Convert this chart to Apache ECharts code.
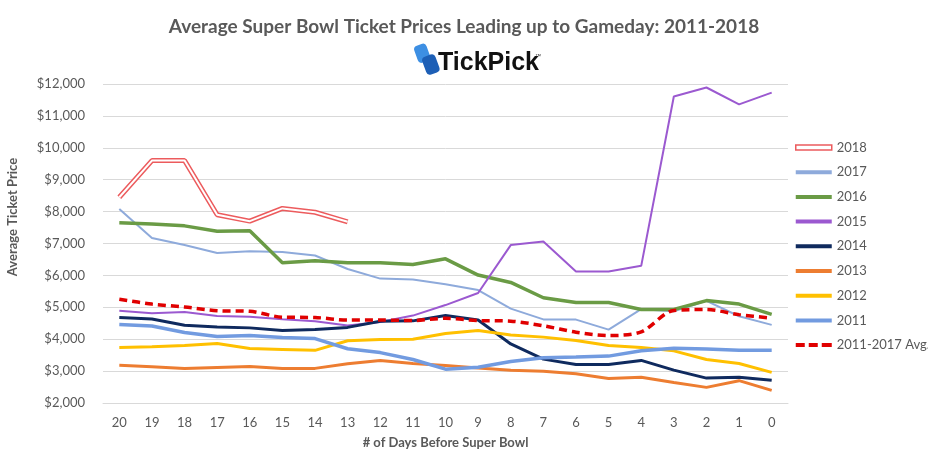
<!DOCTYPE html>
<html>
<head>
<meta charset="utf-8">
<script src="https://cdn.jsdelivr.net/npm/echarts@6/dist/echarts.min.js"></script>
<style>html,body{margin:0;padding:0;background:#fff}#c{width:928px;height:465px}</style>
</head>
<body>
<div id="c"></div>
<script>
var categories = ['20','19','18','17','16','15','14','13','12','11','10','9','8','7','6','5','4','3','2','1','0'];
var yTicks = [2000,3000,4000,5000,6000,7000,8000,9000,10000,11000,12000];
var s2018 = [8450, 9600, 9600, 7900, 7700, 8100, 7980, 7680];
var s2017 = [8080, 7170, 6950, 6700, 6760, 6730, 6625, 6200, 5900, 5875, 5720, 5540, 4960, 4620, 4615, 4300, 4940, 4875, 5200, 4720, 4450];
var s2016 = [7650, 7615, 7553, 7385, 7396, 6396, 6459, 6396, 6400, 6340, 6520, 6010, 5780, 5300, 5150, 5150, 4930, 4930, 5210, 5100, 4780];
var s2015 = [4890, 4815, 4855, 4730, 4700, 4625, 4560, 4430, 4540, 4740, 5070, 5450, 6950, 7060, 6120, 6120, 6300, 11610, 11890, 11360, 11730];
var s2014 = [4680, 4635, 4440, 4385, 4355, 4270, 4305, 4370, 4560, 4575, 4740, 4600, 3850, 3375, 3210, 3210, 3335, 3030, 2780, 2810, 2710];
var s2013 = [3180, 3135, 3085, 3115, 3145, 3085, 3085, 3230, 3335, 3240, 3175, 3100, 3030, 2995, 2915, 2770, 2810, 2645, 2490, 2700, 2395];
var s2012 = [3740, 3760, 3800, 3865, 3710, 3680, 3650, 3950, 3990, 4000, 4180, 4270, 4135, 4065, 3960, 3800, 3740, 3635, 3365, 3240, 2960];
var s2011 = [4460, 4415, 4210, 4085, 4115, 4055, 4020, 3700, 3580, 3365, 3060, 3120, 3300, 3420, 3440, 3470, 3635, 3720, 3690, 3650, 3650];
var sAvg = [5255, 5100, 5010, 4895, 4875, 4690, 4680, 4600, 4600, 4585, 4655, 4585, 4565, 4420, 4220, 4115, 4230, 4900, 4930, 4770, 4660];

var FONT = 'Lato';
var GREY = '#595959';
var C = {
  '2018': '#ec5b5d', '2017': '#8eaadb', '2016': '#6a9b45', '2015': '#9b59d0',
  '2014': '#0f2a5e', '2013': '#ed7d31', '2012': '#ffc000', '2011': '#729be0', 'avg': '#e00000'
};
var SOLID = 'path://M0,0h36v4h-36z';
var DASHED = 'path://M0,0h9v4h-9z M13,0h9v4h-9z M26,0h10v4h-10z';

var chart = echarts.init(document.getElementById('c'), null, {renderer: 'canvas'});

function line(name, data, color, width, extra) {
  var s = {
    name: name, type: 'line', data: data, symbol: 'none', showSymbol: false,
    lineStyle: {color: color, width: width}, itemStyle: {color: color},
    emphasis: {disabled: true}, animation: false
  };
  if (extra) for (var k in extra) s[k] = extra[k];
  return s;
}
function leg(name, color) {
  return {name: name, icon: SOLID, itemStyle: {color: color, borderWidth: 0}};
}

chart.setOption({
  animation: false,
  backgroundColor: '#fff',
  title: {
    text: 'Average Super Bowl Ticket Prices Leading up to Gameday: 2011-2018',
    left: 'center', top: 12,
    textStyle: {fontFamily: FONT, fontSize: 19, fontWeight: 'bold', color: GREY}
  },
  grid: {left: 103, right: 140, top: 84, bottom: 62, containLabel: false},
  legend: {
    orient: 'vertical', left: 795, top: 141, itemWidth: 36, itemHeight: 14, itemGap: 11.7,
    padding: 0,
    textStyle: {fontFamily: FONT, fontSize: 13, color: GREY},
    data: [
      {name: '2018', icon: 'path://M0,0 L36,0 L36,5 L0,5 Z', itemStyle: {color: '#fff', borderColor: C['2018'], borderWidth: 1.5}},
      leg('2017', C['2017']), leg('2016', C['2016']), leg('2015', C['2015']), leg('2014', C['2014']),
      leg('2013', C['2013']), leg('2012', C['2012']), leg('2011', C['2011']),
      {name: '2011-2017 Avg.', icon: DASHED, itemStyle: {color: C.avg, borderWidth: 0}}
    ]
  },
  xAxis: {
    type: 'category', data: categories, boundaryGap: true,
    axisLine: {show: true, lineStyle: {color: '#d9d9d9'}},
    axisTick: {show: false},
    axisLabel: {fontFamily: FONT, fontSize: 13, color: GREY, margin: 13},
    name: '# of Days Before Super Bowl', nameLocation: 'middle', nameGap: 33,
    nameTextStyle: {fontFamily: FONT, fontSize: 13, fontWeight: 'bold', color: GREY}
  },
  yAxis: {
    type: 'value', min: yTicks[0], max: yTicks[yTicks.length - 1], interval: 1000,
    axisLine: {show: false}, axisTick: {show: false},
    splitLine: {lineStyle: {color: '#d9d9d9', width: 1}},
    axisLabel: {
      fontFamily: FONT, fontSize: 13, color: GREY, margin: 18,
      formatter: function (v) { return '$' + v.toLocaleString('en-US'); }
    }
  },
  graphic: [
    {type: 'text', rotation: Math.PI / 2, x: 13, y: 217,
      style: {text: 'Average Ticket Price', font: 'bold 13px ' + FONT, fill: GREY, textAlign: 'center', textVerticalAlign: 'middle'}},
    {type: 'rect', shape: {x: 0, y: 0, width: 13, height: 18, r: 4}, x: 413, y: 47, rotation: 0.35,
      style: {fill: '#3d8fe3'}},
    {type: 'rect', shape: {x: 0, y: 0, width: 14, height: 19, r: 4}, x: 421, y: 58, rotation: 0.35,
      style: {fill: '#1d5fb6'}},
    {type: 'text', x: 438, y: 63,
      style: {text: 'TickPick', font: 'bold 25px "Liberation Sans"', fill: '#111', textVerticalAlign: 'middle'}},
    {type: 'text', x: 535, y: 56,
      style: {text: '\u2122', font: '6px "Liberation Sans"', fill: '#333', textVerticalAlign: 'middle'}}
  ],
  series: [
    line('2018', s2018, C['2018'], 5),
    line('2018 inner', s2018, '#ffffff', 2),
    line('2017', s2017, C['2017'], 2),
    line('2016', s2016, C['2016'], 3.5),
    line('2015', s2015, C['2015'], 2),
    line('2014', s2014, C['2014'], 3),
    line('2013', s2013, C['2013'], 3),
    line('2012', s2012, C['2012'], 3),
    line('2011', s2011, C['2011'], 3.5),
    line('2011-2017 Avg.', sAvg, C.avg, 3.5, {smooth: 0.3, lineStyle: {color: C.avg, width: 3.5, type: [8, 5]}})
  ]
});
</script>
</body>
</html>
